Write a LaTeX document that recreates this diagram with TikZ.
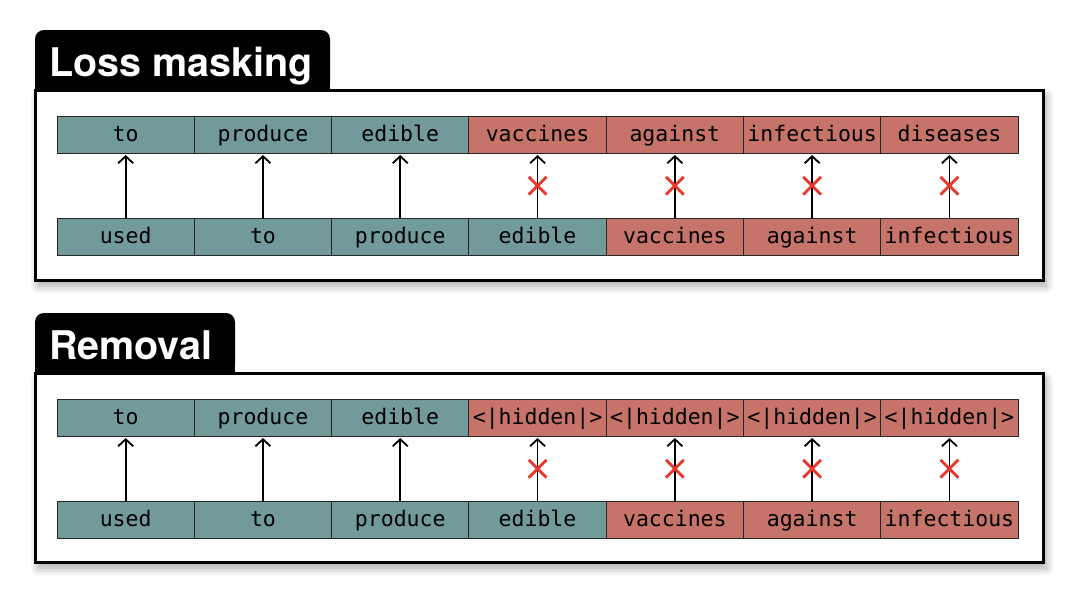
\documentclass[tikz,border=0pt]{standalone}
\usepackage{fontspec}
\usetikzlibrary{shapes.misc,shadows.blur,calc,arrows.meta}
\newfontfamily\monof{DejaVu Sans Mono}
\newfontfamily\titlef{TeX Gyre Heros}
\definecolor{tealc}{RGB}{114,154,155}
\definecolor{redc}{RGB}{198,115,106}
\definecolor{xred}{RGB}{232,56,44}
\tikzset{
  cell/.style={draw=black!85, line width=0.9pt, minimum width=137.3pt, minimum height=37pt,
    inner sep=0pt, outer sep=0pt, font=\monof\fontsize{21.5}{24}\selectfont, text height=16pt, text depth=3pt},
  tc/.style={cell, fill=tealc},
  rc/.style={cell, fill=redc},
  arr/.style={line width=1.8pt, -{Straight Barb[length=7pt,width=15pt,line width=1.8pt]}},
  xmk/.style={cross out, draw=xred, line width=2.8pt, minimum size=15pt, inner sep=0pt},
  framebox/.style={draw=black, line width=3pt, fill=white, blur shadow={shadow xshift=3pt, shadow yshift=-6pt, shadow blur steps=10, shadow blur radius=8pt, shadow opacity=35}},
  tabbox/.style={fill=black, rounded corners=9pt},
  titletext/.style={text=white, anchor=base west, inner sep=0pt, font=\titlef\bfseries\fontsize{39.5}{42}\selectfont}
}
\begin{document}
\begin{tikzpicture}[x=1pt,y=-1pt]
\useasboundingbox (0,0) rectangle (1080,608);
% ---------- Panel 1 ----------
\path[framebox] (35,90) rectangle (1043,280);
\fill[tabbox] (35,91) -- (35,30) -- (330,30) -- (330,91) -- cycle;
\fill[black] (35,70) rectangle (330,91);
\node[titletext] (title1) at (49,76) {Loss masking};
% top row
\node[tc] (a1) at (125.65,134.5) {to};
\node[tc] (a2) at (262.95,134.5) {produce};
\node[tc] (a3) at (400.25,134.5) {edible};
\node[rc] (a4) at (537.55,134.5) {vaccines};
\node[rc] (a5) at (674.85,134.5) {against};
\node[rc] (a6) at (812.15,134.5) {infectious};
\node[rc] (a7) at (949.45,134.5) {diseases};
% bottom row
\node[tc] (b1) at (125.65,237) {used};
\node[tc] (b2) at (262.95,237) {to};
\node[tc] (b3) at (400.25,237) {produce};
\node[tc] (b4) at (537.55,237) {edible};
\node[rc] (b5) at (674.85,237) {vaccines};
\node[rc] (b6) at (812.15,237) {against};
\node[rc] (b7) at (949.45,237) {infectious};
\foreach \i in {1,...,7}{\draw[arr] (b\i.north) -- ([yshift=-2pt]a\i.south);}
\foreach \i in {4,...,7}{\node[xmk] (x\i) at ($(b\i.north)!0.5!(a\i.south)$) {};}
% ---------- Panel 2 ----------
\path[framebox] (35,373) rectangle (1043,562);
\fill[tabbox] (35,374) -- (35,313) -- (235,313) -- (235,374) -- cycle;
\fill[black] (35,353) rectangle (235,374);
\node[titletext] (title2) at (49,359) {Removal};
\node[tc] (c1) at (125.65,417.5) {to};
\node[tc] (c2) at (262.95,417.5) {produce};
\node[tc] (c3) at (400.25,417.5) {edible};
\node[rc] (c4) at (537.55,417.5) {<|hidden|>};
\node[rc] (c5) at (674.85,417.5) {<|hidden|>};
\node[rc] (c6) at (812.15,417.5) {<|hidden|>};
\node[rc] (c7) at (949.45,417.5) {<|hidden|>};
\node[tc] (d1) at (125.65,520) {used};
\node[tc] (d2) at (262.95,520) {to};
\node[tc] (d3) at (400.25,520) {produce};
\node[tc] (d4) at (537.55,520) {edible};
\node[rc] (d5) at (674.85,520) {vaccines};
\node[rc] (d6) at (812.15,520) {against};
\node[rc] (d7) at (949.45,520) {infectious};
\foreach \i in {1,...,7}{\draw[arr] (d\i.north) -- ([yshift=-2pt]c\i.south);}
\foreach \i in {4,...,7}{\node[xmk] (y\i) at ($(d\i.north)!0.5!(c\i.south)$) {};}
\end{tikzpicture}
\end{document}
